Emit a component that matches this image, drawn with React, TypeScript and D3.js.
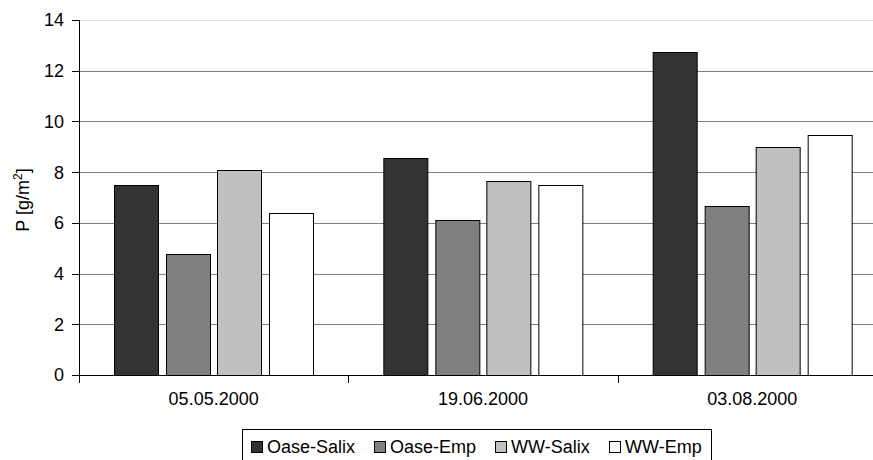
import React from "react";
import * as d3 from "d3";

const categories = ["05.05.2000", "19.06.2000", "03.08.2000"];
const series = ["Oase-Salix", "Oase-Emp", "WW-Salix", "WW-Emp"];
const oaseSalix = [7.5, 8.57, 12.75];
const oaseEmp = [4.76, 6.12, 6.65];
const wwSalix = [8.08, 7.66, 8.98];
const wwEmp = [6.38, 7.5, 9.45];
const yTicks = [0, 2, 4, 6, 8, 10, 12, 14];
const colors = ["#333333", "#808080", "#c0c0c0", "#ffffff"];

const seriesValues = [oaseSalix, oaseEmp, wwSalix, wwEmp];

const W = 873;
const H = 460;
const FONT = "'Liberation Sans', Arial, sans-serif";

export default function App() {
  const y = d3.scaleLinear().domain([0, 14]).range([375, 20]);
  const x0 = d3.scaleBand<string>().domain(categories).range([79, 887]).padding(0);
  const x1 = d3.scaleBand<string>().domain(series).range([35, 234]).paddingInner(0.14).paddingOuter(0);

  const legendWidths = [88, 86, 79, 77];
  const legendItems: { x: number; name: string; color: string }[] = [];
  let lx = 251;
  series.forEach((s, i) => {
    legendItems.push({ x: lx, name: s, color: colors[i] });
    lx += 16 + legendWidths[i] + 19;
  });

  return (
    <div style={{ position: "absolute", left: 0, top: 0 }}>
      <svg width={W} height={H} style={{ display: "block", background: "#fff" }} fontFamily={FONT}>
        {/* gridlines */}
        {yTicks.filter((t) => t > 0).map((t) => (
          <line key={t} x1={79} x2={887} y1={Math.round(y(t)) + 0.5} y2={Math.round(y(t)) + 0.5}
            stroke={t === 14 ? "#e0e0e0" : "#808080"} strokeWidth={1} />
        ))}
        {/* bars */}
        {categories.map((c, ci) => (
          <g key={c} transform={`translate(${x0(c)},0)`}>
            {series.map((s, si) => {
              const v = seriesValues[si][ci];
              const bx = Math.round(x1(s)!) + 0.5;
              const by = Math.round(y(v)) + 0.5;
              return (
                <rect key={s} x={bx} y={by} width={Math.round(x1.bandwidth())} height={Math.round(y(0)) - by + 0.5}
                  fill={colors[si]} stroke="#000" strokeWidth={1} />
              );
            })}
          </g>
        ))}
        {/* y axis */}
        <line x1={79.5} x2={79.5} y1={20} y2={375.5} stroke="#000" />
        {yTicks.map((t) => (
          <g key={t}>
            <line x1={72} x2={79.5} y1={Math.round(y(t)) + 0.5} y2={Math.round(y(t)) + 0.5} stroke="#000" />
            <text x={64} y={y(t)} dy="0.36em" textAnchor="end" fontSize={18} fill="#000">{t}</text>
          </g>
        ))}
        {/* x axis */}
        <line x1={79} x2={887} y1={375.5} y2={375.5} stroke="#000" />
        {categories.map((c) => (
          <g key={c}>
            <line x1={Math.round(x0(c)!) + 0.5} x2={Math.round(x0(c)!) + 0.5} y1={375} y2={383} stroke="#000" />
            <text x={x0(c)! + x0.bandwidth() / 2} y={405} textAnchor="middle" fontSize={18} fill="#000">{c}</text>
          </g>
        ))}
        {/* y title */}
        <text transform={`translate(29,200) rotate(-90)`} textAnchor="middle" fontSize={18} fill="#000">
          P [g/m<tspan fontSize={12} dy={-7}>2</tspan><tspan dy={7}>]</tspan>
        </text>
        {/* legend */}
        <rect x={242.5} y={429.5} width={lx - 242 - 10} height={40} fill="#fff" stroke="#000" />
        {legendItems.map((it) => (
          <g key={it.name}>
            <rect x={it.x + 0.5} y={441.5} width={11} height={11} fill={it.color} stroke="#000" />
            <text x={it.x + 16} y={453} fontSize={18} fill="#000">{it.name}</text>
          </g>
        ))}
      </svg>
    </div>
  );
}
